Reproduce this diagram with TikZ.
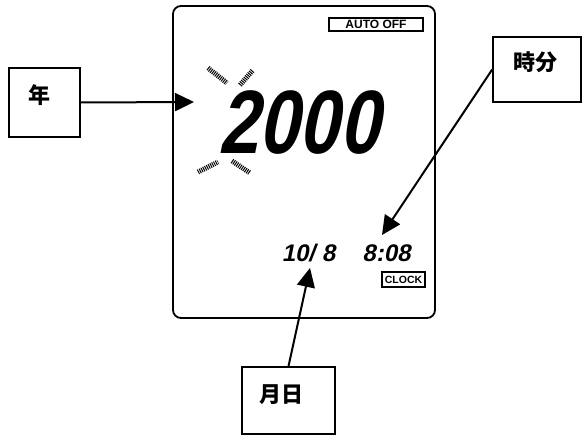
\documentclass[tikz,border=0pt]{standalone}
\usepackage{fontspec}
\usepackage{tikz}
\usetikzlibrary{arrows.meta, positioning}
\usepackage{xcolor}
\setmainfont{Liberation Sans}
\newfontfamily\jpfont{Noto Sans CJK JP}
\newfontfamily\lcdfont{Liberation Sans}[FakeSlant=0.2]
\newfontfamily\lcdnarrow{Liberation Sans}[FakeSlant=0.2,FakeStretch=0.8]
\definecolor{ink}{RGB}{0,0,0}
\definecolor{paper}{RGB}{255,255,255}
\tikzset{
  % LCD panel outline
  panel/.style={
    rectangle, rounded corners=8pt,
    draw=ink, line width=1.8pt, fill=paper
  },
  % Callout box
  tagbox/.style={
    rectangle, draw=ink, line width=1.6pt, fill=paper, inner sep=0pt
  },
  % Callout text
  tagtext/.style={
    font=\jpfont\bfseries\fontsize{22}{24}\selectfont, text=ink, inner sep=0pt
  },
  % Small framed indicator
  indicator/.style={
    rectangle, draw=ink, line width=1.2pt, inner sep=0pt,
    text=ink, font=\bfseries\fontsize{12}{12}\selectfont
  },
  % Segment digits
  bigdigits/.style={
    font=\lcdnarrow\bfseries\fontsize{90}{90}\selectfont, text=ink, inner sep=0pt
  },
  smalldigits/.style={
    font=\lcdfont\bfseries\fontsize{24}{24}\selectfont, text=ink, inner sep=0pt
  },
  % Pointer arrow
  arr/.style={
    -{Triangle[length=19pt,width=18pt]}, color=ink, line width=2pt
  },
  % Blinking marks
  blink/.style={
    color=ink, line width=5pt, dash pattern=on 1pt off 1pt
  },
}

\begin{document}
\begin{tikzpicture}[x=1pt, y=-1pt]
  \useasboundingbox (0,0) rectangle (582,435);
  \node[panel, minimum width=262pt, minimum height=312pt] (lcd) at (304,162) {};
  \node[indicator, minimum width=94pt, minimum height=13pt] (autooff) at (376,24.5) {AUTO OFF};
  \node[bigdigits] (year) at (299,122.5) {2000};
  \node[smalldigits] (date) at (308.5,253.5) {10/ 8};
  \node[smalldigits] (time) at (386.5,253.5) {8:08};
  \node[indicator, minimum width=43pt, minimum height=15pt,
        font=\bfseries\fontsize{10.5}{10.5}\selectfont] (clock) at (403.5,279.5) {CLOCK};

  % blinking marks round the year
  \draw[blink] (208,68) -- (227,83);
  \draw[blink] (240,85) -- (253,70);
  \draw[blink] (198,172) -- (218,162);
  \draw[blink] (232,161) -- (250,173);

  \node[tagbox, minimum width=71pt, minimum height=69pt] (nen) at (44.5,102.5) {};
  \node[tagtext] (nentext) at ([shift={(-5,-7)}]nen.center) {年};
  \node[tagbox, minimum width=88pt, minimum height=65pt] (jifun) at (537,69.5) {};
  \node[tagtext] (jifuntext) at ([shift={(-2,-7)}]jifun.center) {時分};
  \node[tagbox, minimum width=93pt, minimum height=67pt] (tsukihi) at (288.5,400.5) {};
  \node[tagtext] (tsukihitext) at ([shift={(-7,-6)}]tsukihi.center) {月日};

  \coordinate (tipyear) at (194,102);
  \coordinate (tiptime) at (382,235);
  \coordinate (tipdate) at (310,268);
  \draw[arr] (nen.east) -- (tipyear);
  \draw[arr] (jifun.west) -- (tiptime);
  \draw[arr] (tsukihi.north) -- (tipdate);
\end{tikzpicture}
\end{document}
